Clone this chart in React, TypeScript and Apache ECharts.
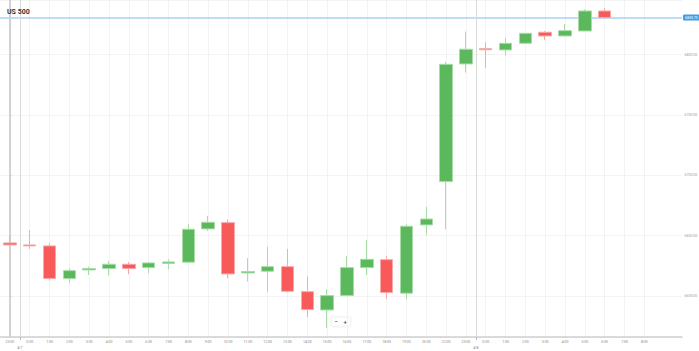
import React, { useEffect, useRef } from "react";
import * as echarts from "echarts";

const hourLabels: string[] = [
  "23:00", "0:00", "1:00", "2:00", "3:00", "4:00", "5:00", "6:00", "7:00", "8:00",
  "9:00", "10:00", "11:00", "12:00", "13:00", "14:00", "15:00", "16:00", "17:00",
  "18:00", "19:00", "20:00", "22:00", "23:00", "0:00", "1:00", "2:00", "3:00",
  "4:00", "5:00", "6:00", "7:00", "8:00",
];
const dayMarks: number[] = [0.5, 23.5];
const dayLabels: string[] = ["4/7", "4/8"];

// [open, close, low, high]
const opens: number[] = [
  6644.0, 6642.3, 6641.5, 6614.4, 6621.6, 6622.7, 6626.3, 6623.5, 6627.0, 6628.0,
  6655.6, 6660.8, 6619.1, 6620.5, 6624.3, 6603.6, 6588.4, 6600.3, 6623.5, 6630.1,
  6602.3, 6658.9, 6694.8, 6792.3, 6805.0, 6803.9, 6809.4, 6818.6, 6815.5, 6819.6,
  6836.2,
];
const closes: number[] = [
  6642.3, 6641.5, 6614.4, 6621.0, 6622.8, 6626.3, 6622.7, 6627.4, 6628.2, 6655.3,
  6661.1, 6618.3, 6620.3, 6624.3, 6603.9, 6588.7, 6600.3, 6623.5, 6630.4, 6602.8,
  6657.8, 6663.8, 6792.0, 6804.5, 6804.1, 6809.4, 6817.7, 6815.5, 6819.9, 6836.2,
  6830.7,
];
const lows: number[] = [
  6641.5, 6639.0, 6612.7, 6610.8, 6617.4, 6617.2, 6618.0, 6618.8, 6622.2, 6627.8,
  6653.9, 6614.7, 6611.9, 6603.6, 6603.1, 6582.4, 6573.3, 6600.0, 6617.4, 6597.5,
  6597.3, 6650.6, 6655.3, 6785.1, 6789.2, 6799.2, 6809.3, 6812.2, 6815.3, 6819.5,
  6830.6,
];
const highs: number[] = [
  6649.8, 6654.7, 6643.7, 6623.0, 6624.3, 6629.0, 6628.2, 6628.2, 6630.4, 6659.5,
  6666.3, 6663.4, 6631.3, 6640.9, 6639.0, 6616.0, 6605.6, 6633.2, 6646.4, 6633.2,
  6659.7, 6674.0, 6794.0, 6819.1, 6810.3, 6813.6, 6818.0, 6819.6, 6825.4, 6837.6,
  6838.5,
];

const FONT = "Roboto, 'Open Sans', sans-serif";

export default function App() {
  const ref = useRef<HTMLDivElement>(null);

  useEffect(() => {
    if (!ref.current) return;
    const chart = echarts.init(ref.current, undefined, { renderer: "svg" });
    const idx = hourLabels.map((_, i) => i);
    const candleData = opens.map((o, i) => [i, o, closes[i], lows[i], highs[i]]);
    const lastClose = closes[closes.length - 1];

    const dividerLines = dayMarks.map((m) => ({
      xAxis: m,
      lineStyle: { color: "#dadada", width: 1, type: "solid" },
      label: { show: false },
    }));

    chart.setOption({
      animation: false,
      backgroundColor: "#ffffff",
      title: {
        text: "US 500",
        left: 2,
        top: 3,
        textStyle: { fontSize: 7, fontWeight: "bold", color: "#333", fontFamily: FONT },
      },
      grid: {
        left: 0,
        right: 17,
        top: 0,
        bottom: 14,
        containLabel: false,
        outerBoundsMode: "none",
      },
      xAxis: [
        {
          type: "value",
          min: -0.5,
          max: 33.9,
          axisLine: { show: true, lineStyle: { color: "#cfcfcf", width: 1.5 } },
          axisTick: { show: false, customValues: idx },
          axisLabel: {
            customValues: idx,
            formatter: (v: number) => hourLabels[Math.round(v)] ?? "",
            fontSize: 3.5,
            color: "#888",
            margin: 2.5,
            fontFamily: FONT,
            showMinLabel: true,
            showMaxLabel: true,
          },
          splitLine: { show: true, lineStyle: { color: "#f3f3f3", width: 1 } },
        },
        {
          type: "value",
          min: -0.5,
          max: 33.9,
          position: "bottom",
          axisLine: { show: false },
          axisTick: {
            show: true,
            customValues: dayMarks,
            length: 3,
            lineStyle: { color: "#bbb" },
          },
          axisLabel: {
            customValues: dayMarks,
            formatter: (v: number) => dayLabels[dayMarks.indexOf(v)] ?? "",
            fontSize: 3.5,
            color: "#888",
            margin: 9,
            fontFamily: FONT,
          },
          splitLine: { show: false },
        },
      ],
      yAxis: {
        type: "value",
        position: "right",
        min: 6566,
        max: 6845.3,
        splitNumber: 5,
        scale: true,
        axisLine: { show: true, lineStyle: { color: "#d2d2d2", width: 2 } },
        axisTick: { show: true, length: 1.5, lineStyle: { color: "#ccc" } },
        axisLabel: {
          fontSize: 3.5,
          color: "#999",
          margin: 2.5,
          fontFamily: FONT,
          showMinLabel: false,
          showMaxLabel: false,
          formatter: (v: number) => v.toFixed(2),
        },
        splitLine: { show: true, lineStyle: { color: "#f3f3f3", width: 1 } },
      },
      series: [
        {
          type: "candlestick",
          xAxisIndex: 0,
          yAxisIndex: 0,
          barWidth: 13,
          data: candleData,
          encode: { x: 0, y: [1, 2, 3, 4] },
          z: 3,
          itemStyle: {
            color: "#5cb85c",
            color0: "#f85a5a",
            borderColor: "#a8dca8",
            borderColor0: "#f9a9a9",
            borderWidth: 1,
          },
          markLine: {
            silent: true,
            symbol: ["none", "none"],
            z: 1,
            lineStyle: { color: "#a6d4f2", width: 1.5, type: "solid" },
            label: {
              show: true,
              position: "end",
              distance: 1,
              formatter: () => lastClose.toFixed(2),
              fontSize: 3.5,
              color: "#fff",
              backgroundColor: "#3d9fe2",
              padding: [1, 2],
              borderRadius: 1,
              fontFamily: FONT,
            },
            data: [{ yAxis: lastClose }, ...dividerLines],
          },
        },
      ],
      graphic: [
        {
          type: "group",
          left: 331,
          top: 317,
          children: [
            {
              type: "rect",
              shape: { x: 0, y: 0, width: 19, height: 9, r: 1 },
              style: {
                fill: "#fff",
                stroke: "#e6e6e6",
                lineWidth: 0.5,
                shadowBlur: 2,
                shadowColor: "rgba(0,0,0,0.1)",
              },
            },
            {
              type: "text",
              x: 5,
              y: 4.5,
              style: {
                text: "−",
                fontSize: 6,
                fill: "#555",
                align: "center",
                verticalAlign: "middle",
                fontFamily: FONT,
                fontWeight: "bold",
              },
            },
            {
              type: "text",
              x: 14,
              y: 4.5,
              style: {
                text: "+",
                fontSize: 6,
                fill: "#555",
                align: "center",
                verticalAlign: "middle",
                fontFamily: FONT,
                fontWeight: "bold",
              },
            },
          ],
        },
      ],
    });

    return () => chart.dispose();
  }, []);

  return (
    <div
      ref={ref}
      style={{ position: "fixed", left: 0, top: 0, width: 699, height: 351, background: "#fff" }}
    />
  );
}
